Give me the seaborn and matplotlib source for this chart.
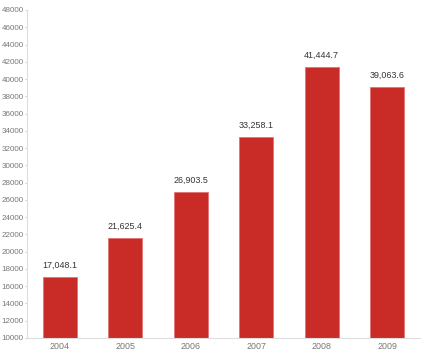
import matplotlib
matplotlib.use("Agg")
import matplotlib.pyplot as plt
import seaborn as sns
import pandas as pd

years = ["2004", "2005", "2006", "2007", "2008", "2009"]
values = [17048.1, 21625.4, 26903.5, 33258.1, 41444.7, 39063.6]
value_labels = ["17,048.1", "21,625.4", "26,903.5", "33,258.1", "41,444.7", "39,063.6"]
y_ticks = list(range(10000, 48001, 2000))

sns.set_theme(style="white")
plt.rcParams['font.family'] = ['Liberation Sans', 'DejaVu Sans']

df = pd.DataFrame({"year": years, "value": values})

fig = plt.figure(figsize=(4.31, 3.55), dpi=100)
ax = fig.add_axes([27/431, 17/355, (420-27)/431, (338-10)/355])

sns.barplot(data=df, x="year", y="value", color="#C92B26", width=0.52,
            saturation=1, edgecolor="#E07470", linewidth=0.6, ax=ax)

ax.set_ylim(10000, 48000)
ax.set_xlim(-0.5, 5.5)
ax.set_yticks(y_ticks)
ax.set_yticklabels([str(t) for t in y_ticks])
ax.set_xlabel("")
ax.set_ylabel("")

for s in ["top", "right"]:
    ax.spines[s].set_visible(False)
for s in ["left", "bottom"]:
    ax.spines[s].set_color("#DDDDDD")
    ax.spines[s].set_linewidth(0.8)

ax.tick_params(axis="y", length=1.5, width=0.6, color="#CCCCCC", labelsize=5.8,
               labelcolor="#777777", pad=0.8, left=True)
ax.tick_params(axis="x", length=0, labelsize=6.4, labelcolor="#777777", pad=3)

for i, (v, lab) in enumerate(zip(values, value_labels)):
    ax.annotate(lab, xy=(i, v), xytext=(0, 5), textcoords="offset points",
                ha="center", va="bottom", fontsize=6.4, color="#333333")

fig.savefig("out.png", dpi=100)
